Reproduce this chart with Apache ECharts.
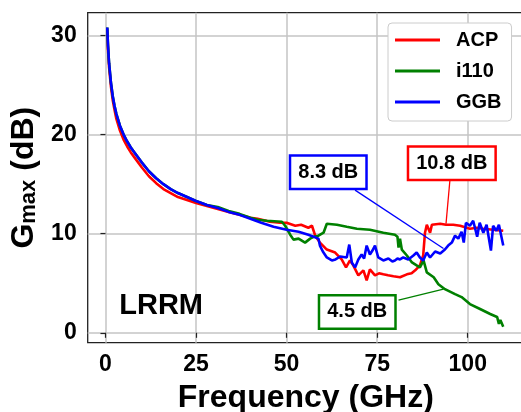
<!DOCTYPE html>
<html><head><meta charset="utf-8">
<script src="https://cdn.jsdelivr.net/npm/echarts@6/dist/echarts.min.js"></script>
<style>html,body{margin:0;padding:0;background:#fff}#c{width:521px;height:412px}</style>
</head><body><div id="c"></div>
<script>
const seriesNames = ['ACP', 'i110', 'GGB'];
const seriesColors = ['#ff0000', '#008000', '#0000ff'];
const xTicks = [0, 25, 50, 75, 100];
const yTicks = [0, 10, 20, 30];

const acpData = [[0.5,30.6],[0.7,28.6],[1.0,26.8],[1.5,24.9],[2.0,23.5],[2.5,22.5],[3.0,21.6],[4,20.4],[5,19.5],[6,18.8],[7,18.2],[8,17.7],[10,16.7],[12,15.8],[14,15.1],[16,14.5],[18,14.1],[20,13.7],[22.5,13.4],[25,13.1],[28,12.8],[31,12.5],[34,12.2],[37,11.9],[40,11.6],[42,11.5],[45.4,11.2],[48.2,11.1],[50,11.1],[52.4,10.8],[54,10.9],[56,10.6],[57,10.8],[57.9,9.8],[59.2,9.1],[61.1,8.4],[63.4,8.1],[65.2,7.4],[66.4,6.6],[67.5,7.3],[68.4,6.8],[69.8,5.8],[71.2,6.3],[72.1,5.3],[73,6.4],[74.4,5.8],[75.5,6.0],[76.7,5.9],[78,5.8],[79.5,5.7],[81.3,5.6],[81.8,5.4],[83.2,5.9],[84.5,6.0],[85.5,6.3],[86.8,6.8],[87.7,7.8],[88.2,10.1],[88.7,10.9],[89.6,10.1],[90.1,10.9],[92.4,11.0],[94,10.9],[96,10.9],[97.9,10.8],[100.6,10.5],[102.5,10.6],[104.3,10.5],[107,10.4],[109.8,10.3]];

const i110Data = [[0.5,30.8],[0.7,29.0],[1.0,27.2],[1.5,25.3],[2.0,23.9],[2.5,22.9],[3.0,22.1],[4,20.9],[5,20.0],[6,19.3],[7,18.7],[8,18.2],[10,17.2],[12,16.3],[14,15.6],[16,15.0],[18,14.5],[20,14.1],[22.5,13.7],[25,13.3],[28,12.9],[31,12.7],[34,12.3],[37,12.0],[40,11.6],[42,11.4],[44.5,11.3],[48.7,11.2],[49.6,10.8],[51,9.9],[51.9,9.4],[53.3,9.5],[55.1,9.1],[56.5,9.5],[57.6,9.7],[58.8,9.8],[60.2,10.1],[61.1,11.0],[63.9,10.9],[66.6,10.7],[69.4,10.5],[73,10.4],[76.7,10.1],[79.9,9.9],[80.6,9.7],[80.9,8.6],[81.3,9.5],[81.8,8.4],[83.2,7.8],[84.6,7.1],[85.9,6.8],[86.8,6.6],[87.8,7.3],[88.7,6.1],[90.6,5.6],[91.9,4.9],[93.7,4.4],[96.5,3.9],[98.3,3.6],[100.6,2.9],[103.4,2.4],[106.2,1.9],[108.1,1.6],[108.6,0.9],[109,1.3],[109.8,0.6]];

const ggbData = [[0.5,30.8],[0.7,29.0],[1.0,27.2],[1.5,25.3],[2.0,23.9],[2.5,22.9],[3.0,22.1],[4,20.9],[5,20.0],[6,19.3],[7,18.7],[8,18.2],[10,17.2],[12,16.3],[14,15.6],[16,15.0],[18,14.5],[20,14.1],[22.5,13.7],[25,13.3],[28,12.9],[31,12.6],[34,12.2],[37,11.9],[40,11.5],[43,11.1],[46.4,10.7],[50,10.4],[53.3,10.2],[56,9.9],[58.8,9.5],[59.2,8.8],[60,8.2],[61.1,7.6],[62.5,7.3],[63.5,7.4],[64.8,7.7],[66.6,7.6],[67.3,8.9],[68,7.1],[68.9,6.6],[69.8,7.4],[70.7,7.9],[71.4,7.5],[72.1,8.8],[73,7.9],[73.7,8.3],[74.4,8.8],[75.3,7.6],[76.7,7.3],[78.1,7.5],[79.2,7.2],[79.9,7.3],[80.6,7.5],[81.3,7.4],[82.2,7.6],[83.6,7.4],[85,7.8],[85.9,8.1],[86.8,7.6],[87.7,7.3],[88.7,8.1],[89.6,7.6],[91,8.2],[92.4,8.0],[93.7,8.4],[94.6,8.8],[95.6,9.1],[96.5,9.8],[97.4,9.5],[98.3,10.2],[98.9,9.1],[99.5,11.1],[100.6,10.8],[101.5,11.3],[102.6,9.7],[103.3,11.1],[104.3,10.1],[105.2,10.9],[106.4,8.3],[107,10.8],[107.9,10.3],[108.6,10.9],[109.8,8.8]];

// annotation text, colour, box centre, leader start, leader end (data coordinates)
const annotations = [
  {text: '8.3 dB', color: '#0000ff', box: [61.5, 16.2], from: [68.9, 14.4], to: [93.3, 8.5]},
  {text: '10.8 dB', color: '#ff0000', box: [95.6, 17.1], from: [95.1, 15.5], to: [94.0, 11.0]},
  {text: '4.5 dB', color: '#008000', box: [69.5, 2.1], from: [80.9, 3.3], to: [93.3, 4.4]}
];
const insideLabel = {text: 'LRRM', pos: [3.8, 2.75]};

const FONT = 'Liberation Sans, Arial, sans-serif';
const chart = echarts.init(document.getElementById('c'), null, {renderer: 'canvas'});

const allData = [acpData, i110Data, ggbData];
chart.setOption({
  animation: false,
  backgroundColor: '#fff',
  grid: {left: 87.7, top: 12.7, right: -2.9, bottom: 69.3, outerBoundsMode: 'none', containLabel: false,
         show: true, borderColor: '#222', borderWidth: 1.3, backgroundColor: 'transparent'},
  legend: {
    left: 388, top: 23, orient: 'vertical',
    data: seriesNames,
    icon: 'rect', itemWidth: 45, itemHeight: 3, itemGap: 11,
    padding: [7, 10, 9, 7],
    backgroundColor: '#fff', borderColor: '#cccccc', borderWidth: 1, borderRadius: 4,
    textStyle: {fontFamily: FONT, fontWeight: 'bold', fontSize: 20, color: '#000', lineHeight: 20, padding: [0, 0, 0, 11]}
  },
  xAxis: {
    type: 'value', min: -4.9, max: 115.5,
    name: 'Frequency (GHz)', nameLocation: 'middle', nameGap: 39,
    nameTextStyle: {fontFamily: FONT, fontWeight: 'bold', fontSize: 32, color: '#000'},
    axisLine: {show: false},
    axisTick: {show: true, customValues: xTicks, length: 5, lineStyle: {color: '#222', width: 1.2}},
    axisLabel: {customValues: xTicks, fontFamily: FONT, fontWeight: 'bold', fontSize: 23, color: '#000', margin: 10},
    splitLine: {show: true, lineStyle: {color: '#c4c4c4', width: 1.5}}
  },
  yAxis: {
    type: 'value', min: -1.0, max: 32.3,
    name: '{g|G}{s|max}{g| (dB)}', nameLocation: 'middle', nameGap: 46,
    nameTextStyle: {
      fontFamily: FONT, fontWeight: 'bold', fontSize: 32, color: '#000',
      rich: {
        g: {fontFamily: FONT, fontWeight: 'bold', fontSize: 32, lineHeight: 32, color: '#000'},
        s: {fontFamily: FONT, fontWeight: 'bold', fontSize: 22, lineHeight: 16, verticalAlign: 'bottom', color: '#000'}
      }
    },
    axisLine: {show: false},
    axisTick: {show: true, customValues: yTicks, length: 5, lineStyle: {color: '#222', width: 1.2}},
    axisLabel: {customValues: yTicks, fontFamily: FONT, fontWeight: 'bold', fontSize: 23, color: '#000', margin: 11},
    splitLine: {show: true, lineStyle: {color: '#c4c4c4', width: 1.5}}
  },
  series: seriesNames.map((n, i) => ({
    name: n, type: 'line', data: allData[i], symbol: 'none', showSymbol: false,
    lineStyle: {color: seriesColors[i], width: 2.6}, itemStyle: {color: seriesColors[i]},
    z: 2 + i
  }))
});

function px(p) { return chart.convertToPixel({gridIndex: 0}, p); }
const graphics = [];
annotations.forEach(a => {
  const s = px(a.from), e = px(a.to);
  graphics.push({type: 'line', z: 10, shape: {x1: s[0], y1: s[1], x2: e[0], y2: e[1]}, style: {stroke: a.color, lineWidth: 1.3}});
});
annotations.forEach(a => {
  const c = px(a.box);
  graphics.push({type: 'text', z: 11, x: c[0], y: c[1], style: {
    text: a.text, font: 'bold 20px ' + FONT, fill: '#000', align: 'center', verticalAlign: 'middle',
    backgroundColor: '#fff', borderColor: a.color, borderWidth: 2.5, padding: [6, 7, 5, 7]
  }});
});
const lp = px(insideLabel.pos);
graphics.push({type: 'text', z: 11, x: lp[0], y: lp[1], style: {
  text: insideLabel.text, font: 'bold 29px ' + FONT, fill: '#000', align: 'left', verticalAlign: 'middle'
}});
chart.setOption({graphic: graphics});
</script>
</body></html>
